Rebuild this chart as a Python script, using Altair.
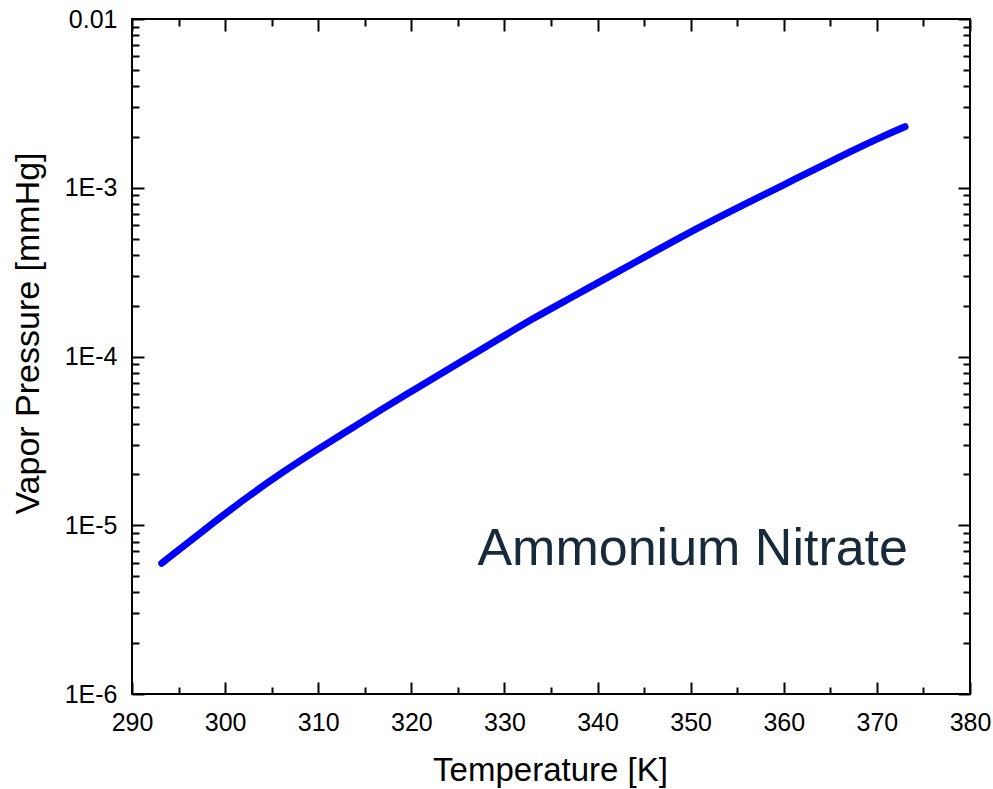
import altair as alt
import pandas as pd

# Vapor pressure of ammonium nitrate vs. temperature
temperature_k = [293.19, 299.10, 302.67, 306.25, 309.84, 313.41, 316.99, 319.86,
                 322.36, 325.95, 329.52, 333.10, 336.69, 340.26, 343.84, 349.21,
                 352.80, 356.37, 359.95, 363.54, 367.11, 370.69, 373.02]
vapor_mmhg = [5.95e-6, 1.074e-5, 1.511e-5, 2.077e-5, 2.792e-5, 3.703e-5, 4.93e-5,
              6.15e-5, 7.43e-5, 9.76e-5, 1.282e-4, 1.684e-4, 2.162e-4, 2.775e-4,
              3.567e-4, 5.20e-4, 6.59e-4, 8.27e-4, 1.038e-3, 1.304e-3, 1.635e-3,
              2.025e-3, 2.30e-3]

x_major = [290, 300, 310, 320, 330, 340, 350, 360, 370, 380]
x_minor = [295, 305, 315, 325, 335, 345, 355, 365, 375]
y_major = [1e-6, 1e-5, 1e-4, 1e-3, 1e-2]
y_minor = [m * d for d in [1e-6, 1e-5, 1e-4, 1e-3] for m in range(2, 10)]

df = pd.DataFrame({"T": temperature_k, "P": vapor_mmhg})

FONT = "Liberation Sans"
x_scale = alt.Scale(domain=[290, 380], nice=False, zero=False)
y_scale = alt.Scale(type="log", domain=[1e-6, 1e-2], nice=False)

base = alt.Chart(df)


def tick_axis(orient, values, size):
    return alt.Axis(orient=orient, values=values, labels=False, domain=False,
                    grid=False, title=None, ticks=True, tickColor="black",
                    tickWidth=2, tickSize={"expr": str(-size)})


def ghost(x_axis, y_axis):
    return base.mark_line(opacity=0).encode(
        x=alt.X("T:Q", scale=x_scale, axis=x_axis),
        y=alt.Y("P:Q", scale=y_scale, axis=y_axis),
    )


curve = base.mark_line(color="#0000ff", strokeWidth=7, strokeCap="round",
                       interpolate="basis").encode(
    x=alt.X("T:Q", scale=x_scale, axis=alt.Axis(
        orient="bottom", values=x_major, format="d", ticks=False, domain=False,
        grid=False, labelFlush=False, labelFont=FONT, labelFontSize=25,
        labelColor="black", labelPadding=16, title="Temperature [K]",
        titleFont=FONT, titleFontSize=33, titleFontWeight="normal",
        titleColor="black", titleX=418, titleY=76, titleBaseline="middle")),
    y=alt.Y("P:Q", scale=y_scale, axis=alt.Axis(
        orient="left", values=y_major, ticks=False, domain=False, grid=False,
        labelFlush=False,
        labelExpr="datum.value > 0.005 ? '0.01' : '1E' + round(log(datum.value) / LN10)",
        labelFont=FONT, labelFontSize=25, labelColor="black", labelPadding=15,
        title="Vapor Pressure [mmHg]", titleFont=FONT, titleFontSize=34,
        titleFontWeight="normal", titleColor="black", titleX=-104,
        titleY=314, titleAngle=270, titleBaseline="middle", titleAlign="center")),
)

label = alt.Chart(pd.DataFrame({"name": ["Ammonium Nitrate"]})).mark_text(
    align="right", baseline="alphabetic", font=FONT, fontSize=52,
    color="#172a3a").encode(
    text="name:N", x=alt.value(776), y=alt.value(546))

chart = alt.layer(
    curve,
    ghost(tick_axis("bottom", x_major, 12), tick_axis("left", y_major, 12)),
    ghost(tick_axis("bottom", x_minor, 7), tick_axis("left", y_minor, 7)),
    ghost(tick_axis("top", x_major, 12), tick_axis("right", y_major, 12)),
    ghost(tick_axis("top", x_minor, 7), tick_axis("right", y_minor, 7)),
    label,
).resolve_axis(x="independent", y="independent").properties(
    width=838, height=675,
    autosize=alt.AutoSizeParams(type="none"),
    padding={"left": 132, "top": 19, "right": 23, "bottom": 95},
    background="white",
).configure_view(stroke="black", strokeWidth=2)

chart.save("out.html", embed_options={"renderer": "svg", "actions": False})
